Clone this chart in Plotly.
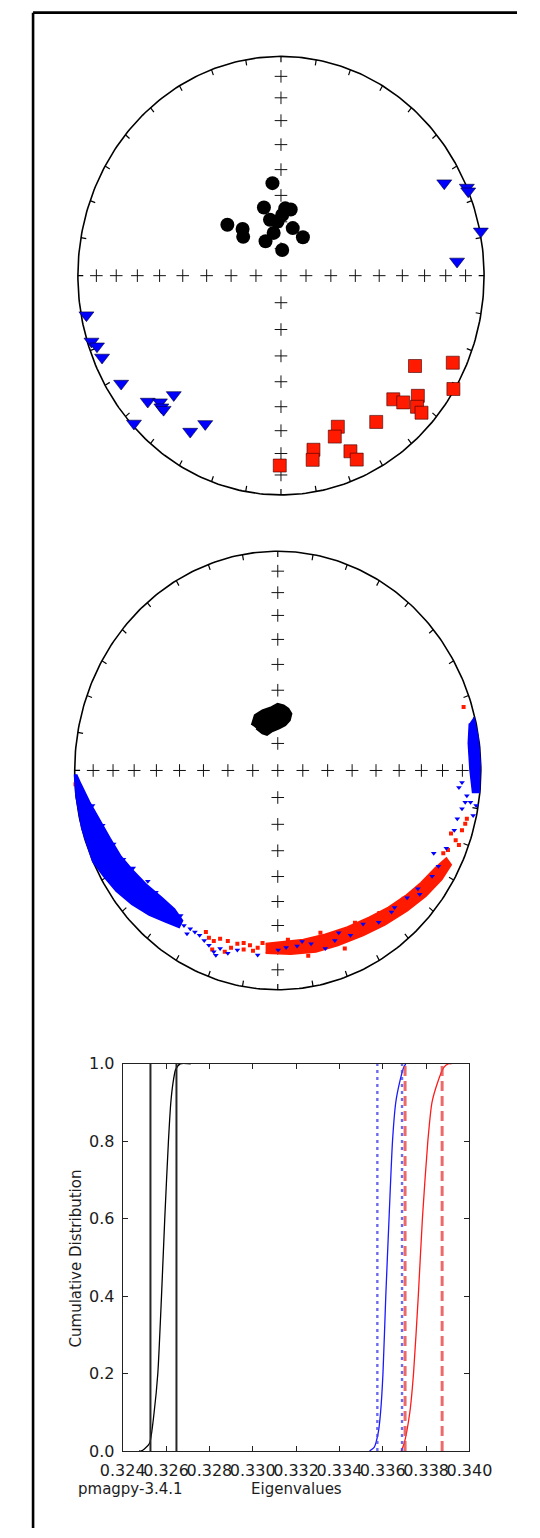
import numpy as np
import plotly.graph_objects as go

W, H = 540, 1538

# ---------------------------------------------------------------------------
# Net 1: eigenvectors of the individual specimens
# (equal-area net coordinates, east / north, primitive circle = 1)
# ---------------------------------------------------------------------------
tau1_east = [-0.006, 0.160, 0.156, 0.280, 0.265, 0.342, 0.373, 0.469, 0.660,
             0.846, 0.849, 0.553, 0.602, 0.674, 0.670, 0.692]
tau1_north = [-0.866, -0.794, -0.840, -0.689, -0.734, -0.801, -0.839, -0.667, -0.412,
              -0.397, -0.517, -0.564, -0.578, -0.548, -0.598, -0.625]

tau2_east = [0.804, 0.915, 0.922, 0.984, 0.867, -0.958, -0.933, -0.906, -0.881, -0.787,
             -0.656, -0.596, -0.589, -0.578, -0.528, -0.724, -0.447, -0.373]
tau2_north = [0.422, 0.402, 0.385, 0.202, 0.065, -0.180, -0.300, -0.322, -0.373, -0.492,
              -0.574, -0.577, -0.600, -0.611, -0.544, -0.674, -0.711, -0.676]

tau3_east = [-0.042, -0.084, 0.048, 0.006, -0.054, -0.017, -0.264, -0.189, -0.186,
             0.058, 0.108, -0.036, -0.076, 0.006, 0.021]
tau3_north = [0.422, 0.311, 0.302, 0.277, 0.255, 0.247, 0.232, 0.213, 0.177,
              0.217, 0.175, 0.195, 0.157, 0.117, 0.307]

# ---------------------------------------------------------------------------
# Net 2: bootstrapped eigenvectors (dense clouds as outlines + loose points)
# ---------------------------------------------------------------------------
boot_tau3_east = [-0.128, -0.113, -0.076, -0.031, -0.001, 0.029, 0.052, 0.067, 0.059,
                  0.037, 0.007, -0.031, -0.053, -0.076, -0.106]
boot_tau3_north = [0.207, 0.252, 0.274, 0.289, 0.304, 0.297, 0.282, 0.259, 0.229,
                   0.207, 0.192, 0.177, 0.162, 0.169, 0.192]

boot_tau2_band_east = [-1.000, -0.993, -0.964, -0.910, -0.857, -0.795, -0.718, -0.633, -0.555,
                       -0.486, -0.470, -0.509, -0.571, -0.648, -0.718, -0.772, -0.826, -0.880,
                       -0.927, -0.970, -0.992]
boot_tau2_band_north = [-0.018, -0.115, -0.265, -0.415, -0.482, -0.550, -0.610, -0.659, -0.689,
                        -0.715, -0.685, -0.632, -0.580, -0.520, -0.452, -0.393, -0.310, -0.220,
                        -0.145, -0.063, -0.018]

boot_tau2_edge_east = [0.965, 0.986, 0.997, 0.993, 0.959, 0.946, 0.938, 0.943]
boot_tau2_edge_north = [0.244, 0.154, 0.034, -0.100, -0.100, 0.004, 0.124, 0.214]

boot_tau2_east = [-0.524, -0.478, -0.462, -0.431, -0.447, -0.408, -0.385, -0.362, -0.339,
                  -0.315, -0.305, -0.284, -0.246, -0.199, -0.099, 0.002, 0.041, 0.095,
                  0.164, 0.234, 0.281, 0.358, 0.497, 0.575, 0.637, 0.699, 0.760, 0.768,
                  0.791, 0.830, 0.869, 0.884, 0.907, 0.923, 0.892, 0.907, 0.931, 0.977,
                  0.962, 0.949, -0.912, -0.862, -0.808, -0.760, -0.712, -0.640, -0.600,
                  0.120, 0.300, 0.420, 0.560, 0.690]
boot_tau2_north = [-0.640, -0.662, -0.707, -0.722, -0.745, -0.737, -0.752, -0.775, -0.797,
                   -0.827, -0.843, -0.812, -0.834, -0.819, -0.842, -0.819, -0.807, -0.801,
                   -0.790, -0.812, -0.775, -0.752, -0.692, -0.625, -0.580, -0.565, -0.482,
                   -0.378, -0.437, -0.355, -0.273, -0.220, -0.175, -0.145, -0.078, -0.055,
                   -0.115, -0.160, -0.205, -0.145, -0.160, -0.250, -0.335, -0.405, -0.445,
                   -0.505, -0.555, -0.780, -0.740, -0.700, -0.645, -0.540]

boot_tau1_band_east = [-0.060, 0.064, 0.188, 0.296, 0.420, 0.528, 0.637, 0.729, 0.807, 0.853,
                       0.830, 0.776, 0.706, 0.629, 0.544, 0.451, 0.343, 0.234, 0.126, 0.017,
                       -0.060]
boot_tau1_band_north = [-0.833, -0.837, -0.827, -0.797, -0.752, -0.703, -0.640, -0.572, -0.497,
                        -0.430, -0.400, -0.445, -0.512, -0.572, -0.625, -0.670, -0.715, -0.748,
                        -0.772, -0.782, -0.790]

boot_tau1_east = [-0.996, -0.354, -0.339, -0.315, -0.284, -0.246, -0.230, -0.199, -0.168,
                  -0.137, -0.099, -0.075, -0.323, -0.261, -0.168, -0.122, 0.815, 0.838,
                  0.853, 0.876, 0.892, 0.907, 0.923, 0.915, 0.977, 0.931, 0.050, 0.210,
                  0.380, 0.500, 0.620, 0.740, 0.150, 0.330]
boot_tau1_north = [-0.063, -0.737, -0.763, -0.778, -0.767, -0.778, -0.808, -0.790, -0.816,
                   -0.797, -0.808, -0.787, -0.816, -0.827, -0.787, -0.822, -0.378, -0.363,
                   -0.288, -0.318, -0.340, -0.273, -0.243, 0.289, 0.064, -0.220, -0.772,
                   -0.740, -0.695, -0.650, -0.585, -0.505, -0.845, -0.812]

# ---------------------------------------------------------------------------
# Cumulative distributions of the bootstrapped eigenvalues
# ---------------------------------------------------------------------------
cdf_tau3_val = [0.32475, 0.32486, 0.32500, 0.32524, 0.32545, 0.32562, 0.32579, 0.32594,
                0.32611, 0.32622, 0.32632, 0.32644, 0.32665, 0.32714]
cdf_tau3_p = [0.0, 0.0, 0.005, 0.02, 0.10, 0.20, 0.40, 0.60, 0.80, 0.90, 0.95, 0.985,
              1.0, 1.0]

cdf_tau2_val = [0.33539, 0.33561, 0.33580, 0.33590, 0.33601, 0.33614, 0.33629, 0.33645,
                0.33660, 0.33677, 0.33696, 0.33706]
cdf_tau2_p = [0.0, 0.01, 0.05, 0.10, 0.20, 0.40, 0.60, 0.80, 0.90, 0.95, 0.99, 1.0]

cdf_tau1_val = [0.33685, 0.33699, 0.33725, 0.33742, 0.33764, 0.33783, 0.33808, 0.33827,
                0.33852, 0.33881, 0.33902, 0.33917]
cdf_tau1_p = [0.0, 0.02, 0.10, 0.20, 0.40, 0.60, 0.80, 0.90, 0.95, 0.99, 1.0, 1.0]

# 95% bounds of each eigenvalue
tau3_bounds = [0.32528, 0.32648]
tau2_bounds = [0.33575, 0.33689]
tau1_bounds = [0.33703, 0.33874]

x_ticks = [0.324, 0.326, 0.328, 0.330, 0.332, 0.334, 0.336, 0.338, 0.340]
x_tick_text = ["0.324", "0.326", "0.328", "0.330", "0.332", "0.334", "0.336", "0.338", "0.340"]
y_ticks = [0.0, 0.2, 0.4, 0.6, 0.8, 1.0]
y_tick_text = ["0.0", "0.2", "0.4", "0.6", "0.8", "1.0"]

TEXT = "#1c1c1c"
FONT = "DejaVu Sans"


def ea_radius(inc):
    """Equal-area (Lambert) radius of a direction with inclination inc."""
    return np.sqrt(1.0 - np.sin(np.radians(inc)))


def xdom(px0, px1):
    return [px0 / W, px1 / W]


def ydom(py_top, py_bot):
    return [1 - py_bot / H, 1 - py_top / H]


fig = go.Figure()


def add_net(xa, ya):
    az = np.radians(np.arange(0, 361, 1))
    fig.add_trace(go.Scatter(x=np.sin(az), y=np.cos(az), mode="lines",
                             line=dict(color="black", width=1.6),
                             xaxis=xa, yaxis=ya, hoverinfo="skip"))
    # azimuth ticks every 10 degrees
    tx, ty = [], []
    for d in range(0, 360, 10):
        a = np.radians(d)
        for inc in (0, 3):
            r = ea_radius(inc)
            tx.append(r * np.sin(a))
            ty.append(r * np.cos(a))
        tx.append(None)
        ty.append(None)
    fig.add_trace(go.Scatter(x=tx, y=ty, mode="lines",
                             line=dict(color="black", width=1.2),
                             xaxis=xa, yaxis=ya, hoverinfo="skip"))
    # crosses along the N-S and E-W diameters every 10 degrees of inclination
    cx, cy = [], []
    for inc in range(10, 100, 10):
        cx.append(0.0)
        cy.append(ea_radius(inc))
    for d in (90, 180, 270):
        a = np.radians(d)
        for inc in range(10, 90, 10):
            r = ea_radius(inc)
            cx.append(r * np.sin(a))
            cy.append(r * np.cos(a))
    fig.add_trace(go.Scatter(x=cx, y=cy, mode="markers",
                             marker=dict(symbol="cross-thin", size=9,
                                         line=dict(color="#111", width=1)),
                             xaxis=xa, yaxis=ya, hoverinfo="skip"))


# ---- net 1
add_net("x", "y")
fig.add_trace(go.Scatter(x=tau1_east, y=tau1_north, mode="markers",
                         marker=dict(symbol="square", size=13, color="#ff1a00",
                                     line=dict(color="#3a0000", width=0.6)),
                         xaxis="x", yaxis="y"))
fig.add_trace(go.Scatter(x=tau2_east, y=tau2_north, mode="markers",
                         marker=dict(symbol="triangle-down", size=13, color="#0000ff",
                                     line=dict(color="#000030", width=0.6)),
                         xaxis="x", yaxis="y"))
fig.add_trace(go.Scatter(x=tau3_east, y=tau3_north, mode="markers",
                         marker=dict(symbol="circle", size=14, color="black"),
                         xaxis="x", yaxis="y"))

# ---- net 2
add_net("x2", "y2")
fig.add_trace(go.Scatter(x=boot_tau1_band_east, y=boot_tau1_band_north, mode="lines",
                         fill="toself", fillcolor="#ff1a00",
                         line=dict(color="#ff1a00", width=2),
                         xaxis="x2", yaxis="y2", hoverinfo="skip"))
fig.add_trace(go.Scatter(x=boot_tau1_east, y=boot_tau1_north, mode="markers",
                         marker=dict(symbol="square", size=4, color="#ff1a00"),
                         xaxis="x2", yaxis="y2"))
fig.add_trace(go.Scatter(x=boot_tau2_band_east, y=boot_tau2_band_north, mode="lines",
                         fill="toself", fillcolor="#0000ff",
                         line=dict(color="#0000ff", width=2),
                         xaxis="x2", yaxis="y2", hoverinfo="skip"))
fig.add_trace(go.Scatter(x=boot_tau2_edge_east, y=boot_tau2_edge_north, mode="lines",
                         fill="toself", fillcolor="#0000ff",
                         line=dict(color="#0000ff", width=1.5),
                         xaxis="x2", yaxis="y2", hoverinfo="skip"))
fig.add_trace(go.Scatter(x=boot_tau2_east, y=boot_tau2_north, mode="markers",
                         marker=dict(symbol="triangle-down", size=5, color="#0000ff"),
                         xaxis="x2", yaxis="y2"))
fig.add_trace(go.Scatter(x=boot_tau3_east, y=boot_tau3_north, mode="lines",
                         fill="toself", fillcolor="black",
                         line=dict(color="black", width=2),
                         xaxis="x2", yaxis="y2", hoverinfo="skip"))

# ---- eigenvalue CDFs
for vals, probs, col in ((cdf_tau3_val, cdf_tau3_p, "black"),
                         (cdf_tau2_val, cdf_tau2_p, "#1a1aff"),
                         (cdf_tau1_val, cdf_tau1_p, "#ff1a1a")):
    fig.add_trace(go.Scatter(x=vals, y=probs, mode="lines",
                             line=dict(color=col, width=1.3, shape="spline", smoothing=0.6),
                             xaxis="x3", yaxis="y3"))

for bounds, col, dash, width in ((tau3_bounds, "#262626", "solid", 2.0),
                                 (tau2_bounds, "rgba(70,70,235,0.8)", "3px,4px", 2.4),
                                 (tau1_bounds, "rgba(230,70,70,0.8)", "10px,5px", 3.0)):
    for b in bounds:
        fig.add_trace(go.Scatter(x=[b, b], y=[0, 1], mode="lines",
                                 line=dict(color=col, width=width, dash=dash),
                                 xaxis="x3", yaxis="y3"))

# ---- axes
NET_K = 1.06
for i, (cx, cy, r) in enumerate(((282.0, 270.0, 222.0), (278.5, 771.0, 222.0)), start=1):
    half = r * NET_K
    suffix = "" if i == 1 else str(i)
    fig.layout["xaxis" + suffix] = dict(domain=xdom(cx - half, cx + half),
                                        range=[-NET_K, NET_K], visible=False,
                                        fixedrange=True, anchor="y" + suffix)
    fig.layout["yaxis" + suffix] = dict(domain=ydom(cy - half, cy + half),
                                        range=[-NET_K, NET_K], visible=False,
                                        fixedrange=True, anchor="x" + suffix)

axis_common = dict(showgrid=False, zeroline=False, showline=True, linecolor="#222",
                   linewidth=1.2, mirror="ticks", ticks="inside", ticklen=5,
                   tickcolor="#222", tickwidth=1, tickangle=0,
                   tickfont=dict(family=FONT, size=16, color=TEXT), fixedrange=True)
fig.layout["xaxis3"] = dict(domain=xdom(109, 488), range=[0.324, 0.340],
                            tickvals=x_ticks, ticktext=x_tick_text, anchor="y3",
                            ticklabelstandoff=5, **axis_common)
fig.layout["yaxis3"] = dict(domain=ydom(1068, 1460), range=[0, 1],
                            tickvals=y_ticks, ticktext=y_tick_text, anchor="x3",
                            ticklabelstandoff=4, **axis_common)

annotations = [
    dict(text="Cumulative Distribution", x=58 / W, y=1 - 1265 / H, textangle=-90,
         font=dict(family=FONT, size=15, color=TEXT)),
    dict(text="Eigenvalues", x=298.5 / W, y=1 - 1499 / H,
         font=dict(family=FONT, size=15, color=TEXT)),
    dict(text="pmagpy-3.4.1", x=58 / W, y=1 - 1499 / H, xanchor="left",
         font=dict(family=FONT, size=15, color=TEXT)),
]
for a in annotations:
    a.update(xref="paper", yref="paper", showarrow=False)
    a.setdefault("xanchor", "center")
    a.setdefault("yanchor", "middle")

fig.update_layout(
    width=W, height=H, margin=dict(l=0, r=0, t=0, b=0),
    paper_bgcolor="white", plot_bgcolor="white", showlegend=False,
    annotations=annotations,
    shapes=[
        dict(type="line", xref="paper", yref="paper", x0=11 / W, x1=11 / W,
             y0=0, y1=1 - 3.7 / H, line=dict(color="black", width=2.6)),
        dict(type="line", xref="paper", yref="paper", x0=11 / W, x1=1,
             y0=1 - 3.7 / H, y1=1 - 3.7 / H, line=dict(color="black", width=2.6)),
    ],
)

fig.write_html("out.html")
